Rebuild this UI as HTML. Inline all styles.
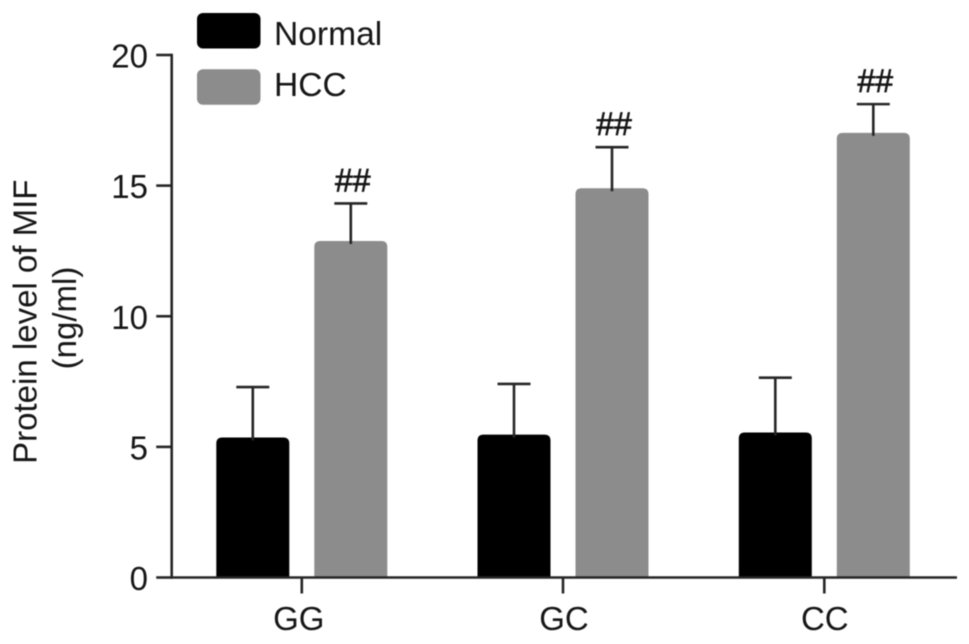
<!DOCTYPE html>
<html>
<head>
<meta charset="utf-8">
<style>
html,body{margin:0;padding:0;background:#fff;}
svg{display:block;filter:blur(0.5px);}
text{font-family:"Liberation Sans",sans-serif;fill:#161616;}
</style>
</head>
<body>
<svg id="chart" width="969" height="644" viewBox="0 0 969 644" xmlns="http://www.w3.org/2000/svg"></svg>
<script>
const categories = ["GG", "GC", "CC"];
const seriesNames = ["Normal", "HCC"];
const normalValues = [5.36, 5.47, 5.55];
const hccValues = [12.88, 14.9, 17.02];
const normalErrors = [1.93, 1.94, 2.1];
const hccErrors = [1.44, 1.57, 1.1];
const significance = ["##", "##", "##"];
const yTicks = [0, 5, 10, 15, 20];

const NS = "http://www.w3.org/2000/svg";
const svg = document.getElementById("chart");
const colors = ["#000000", "#8c8c8c"];
const lineColor = "#262626";
const axisX = 171.7, axisRight = 957, y0 = 577.5, y20 = 55;
const groupCenters = [301.8, 563, 824.3];
const labelNudge = [-3, 1, 0.5];
const barOffset = 49, barW = 73;

function yScale(v) { return y0 - (v / 20) * (y0 - y20); }
function xScale(i) { return groupCenters[i]; }
function make(tag, attrs, text) {
  const el = document.createElementNS(NS, tag);
  for (const k in attrs) el.setAttribute(k, attrs[k]);
  if (text !== undefined) el.textContent = text;
  svg.appendChild(el);
  return el;
}
function barPath(x, y, w, h) {
  const r = 6;
  return "M" + x + " " + (y + h) + "V" + (y + r) + "Q" + x + " " + y + " " + (x + r) + " " + y +
         "H" + (x + w - r) + "Q" + (x + w) + " " + y + " " + (x + w) + " " + (y + r) + "V" + (y + h) + "Z";
}
function drawBar(cx, value, err, color, label) {
  const top = yScale(value), errTop = yScale(value + err);
  let el = make("path", {d: barPath(cx - barW / 2, top, barW, y0 - top), fill: color});
  
  
  el = make("line", {x1: cx, x2: cx, y1: top + 3, y2: errTop, stroke: lineColor, "stroke-width": 2.6});
  
  
  el = make("line", {x1: cx - 16.5, x2: cx + 16.5, y1: errTop, y2: errTop, stroke: lineColor, "stroke-width": 2.6});
  
  
}

categories.forEach(function (cat, i) {
  const c = xScale(i), key = cat.toLowerCase();
  drawBar(c - barOffset, normalValues[i], normalErrors[i], colors[0], "normal-" + key);
  drawBar(c + barOffset, hccValues[i], hccErrors[i], colors[1], "hcc-" + key);
  const sig = make("text", {x: c + barOffset + 2, y: yScale(hccValues[i] + hccErrors[i]) - 12, "font-size": 32, "text-anchor": "middle", stroke: "#161616", "stroke-width": 0.7}, significance[i]);
  
  
  const tick = make("line", {x1: c, x2: c, y1: y0, y2: y0 + 16, stroke: lineColor, "stroke-width": 2.6});
  
  
  const lab = make("text", {x: c + labelNudge[i], y: 630, "font-size": 33, "text-anchor": "middle"}, cat);
  
  
});

yTicks.forEach(function (t) {
  const y = yScale(t);
  const tick = make("line", {x1: axisX - 15.5, x2: axisX, y1: y, y2: y, stroke: lineColor, "stroke-width": 2.6});
  
  
  const lab = make("text", {x: 148, y: y + 12.5, "font-size": 33, "text-anchor": "end"}, String(t));
  
  
});

const yAxis = make("line", {x1: axisX, x2: axisX, y1: y20 - 1.3, y2: y0 + 1.3, stroke: lineColor, "stroke-width": 2.6});


const xAxis = make("line", {x1: axisX, x2: axisRight, y1: y0, y2: y0, stroke: lineColor, "stroke-width": 2.6});



const title1 = make("text", {transform: "translate(36.5 321.7) rotate(-90)", "font-size": 33, "text-anchor": "middle"}, "Protein level of MIF");


const title2 = make("text", {transform: "translate(76 318) rotate(-90)", "font-size": 33, "text-anchor": "middle"}, "(ng/ml)");



seriesNames.forEach(function (name, i) {
  const top = 13 + i * 56.3;
  const sw = make("rect", {x: 197, y: top, width: 63.5, height: 35.5, rx: 6, fill: colors[i]});
  
  
  const lab = make("text", {x: 274, y: 45 + i * 51, "font-size": 33.6}, name);
  
  
});
</script>
</body>
</html>
